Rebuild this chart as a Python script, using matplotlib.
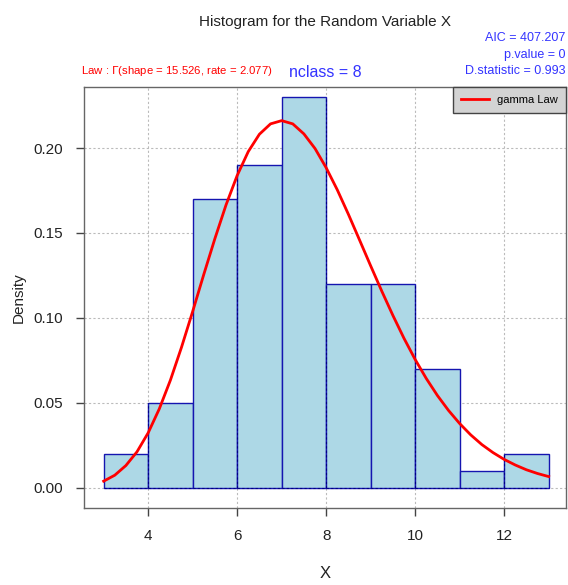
import matplotlib
matplotlib.use("Agg")
import matplotlib.pyplot as plt

plt.rcParams['font.family'] = ['Liberation Sans', 'DejaVu Sans']

# histogram bins (density)
bin_left = [3, 4, 5, 6, 7, 8, 9, 10, 11, 12]
bin_width = 1
density = [0.02, 0.05, 0.17, 0.19, 0.23, 0.12, 0.12, 0.07, 0.01, 0.02]

# fitted gamma law curve
curve_x = [3, 3.25, 3.5, 3.75, 4, 4.25, 4.5, 4.75, 5, 5.25, 5.5, 5.75, 6,
           6.25, 6.5, 6.75, 7, 7.25, 7.5, 7.75, 8, 8.25, 8.5, 8.75, 9, 9.25,
           9.5, 9.75, 10, 10.25, 10.5, 10.75, 11, 11.25, 11.5, 11.75, 12,
           12.25, 12.5, 12.75, 13]
curve_y = [0.0040, 0.0075, 0.0132, 0.0213, 0.0324, 0.0465, 0.0634, 0.0828,
           0.1038, 0.1256, 0.1467, 0.1665, 0.1838, 0.1979, 0.2081, 0.2142,
           0.2161, 0.2142, 0.2083, 0.1997, 0.1884, 0.1754, 0.1610, 0.1459,
           0.1307, 0.1158, 0.1015, 0.0880, 0.0756, 0.0644, 0.0544, 0.0456,
           0.0379, 0.0312, 0.0255, 0.0208, 0.0168, 0.0135, 0.0107, 0.0085,
           0.0067]

xticks = [4, 6, 8, 10, 12]
yticks = [0.00, 0.05, 0.10, 0.15, 0.20]

fig = plt.figure(figsize=(5.68, 5.85), dpi=100)
ax = fig.add_axes([0.148, 0.1316, 0.8485, 0.7197])
ax.set_xlim(2.56, 13.39)
ax.set_ylim(-0.0118, 0.2359)

# grid behind
for x in xticks:
    ax.axvline(x, color='#BBBBBB', lw=0.8, ls=(0, (2, 2)), zorder=0)
for y in yticks:
    ax.axhline(y, color='#BBBBBB', lw=0.8, ls=(0, (2, 2)), zorder=0)

ax.bar(bin_left, density, width=bin_width, align='edge', color='#ADD8E6',
       edgecolor='#1515B0', linewidth=1.0, zorder=1)

# dotted lines over the bars
for x in xticks:
    h = density[bin_left.index(x)] if x in bin_left else 0
    h = max(h, density[bin_left.index(x - 1)]) if (x - 1) in bin_left else h
    ax.plot([x, x], [0, h], color='#000080', lw=0.8, ls=(0, (2, 2)), zorder=2)
ax.plot([bin_left[0], bin_left[-1] + bin_width], [0, 0], color='#000080',
        lw=0.8, ls=(0, (2, 2)), zorder=2)

ax.plot(curve_x, curve_y, color='red', lw=2, zorder=3, label='gamma Law')

ax.set_xticks(xticks)
ax.set_yticks(yticks)
ax.set_yticklabels(['%.2f' % v for v in yticks])
ax.tick_params(labelsize=11, length=6, width=1, color='#444444', pad=9,
               labelcolor='#222222')
for s in ax.spines.values():
    s.set_color('#666666')
    s.set_linewidth(1)

ax.set_xlabel('X', fontsize=12, labelpad=17, color='#222222')
ax.set_ylabel('Density', fontsize=11, labelpad=6, color='#222222')

leg = ax.legend(loc='upper right', fontsize=8, frameon=True, fancybox=False,
                borderaxespad=0, handlelength=2.5, borderpad=0.7)
leg.get_frame().set_facecolor('#D3D3D3')
leg.get_frame().set_edgecolor('#444444')
leg.get_frame().set_alpha(1)

fig.text(0.572, 0.962, 'Histogram for the Random Variable X', ha='center',
         va='center', fontsize=11, color='#222222')
blue = '#3333FF'
fig.text(0.996, 0.935, 'AIC = 407.207', ha='right', va='center', fontsize=9, color=blue)
fig.text(0.996, 0.906, 'p.value = 0', ha='right', va='center', fontsize=9, color=blue)
fig.text(0.996, 0.878, 'D.statistic = 0.993', ha='right', va='center', fontsize=9, color=blue)
fig.text(0.572, 0.876, 'nclass = 8', ha='center', va='center', fontsize=11.5, color=blue)
fig.text(0.142, 0.878, r'Law : $\Gamma$(shape = 15.526, rate = 2.077)', ha='left',
         va='center', fontsize=8.2, color='red')

fig.savefig('out.png', dpi=100)
